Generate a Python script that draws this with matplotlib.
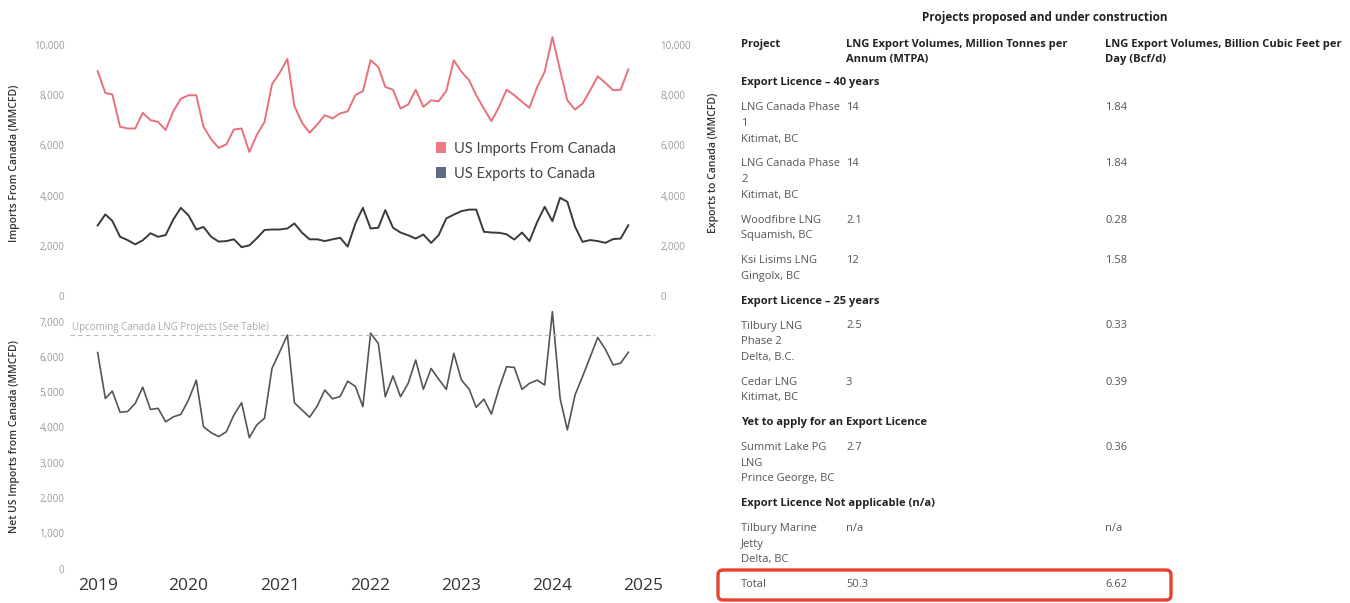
import numpy as np
import pandas as pd
import matplotlib
matplotlib.use("Agg")
import matplotlib.pyplot as plt
import matplotlib.dates as mdates
from matplotlib.patches import Patch, FancyBboxPatch
from matplotlib.ticker import FuncFormatter

plt.rcParams['font.family'] = ['Open Sans', 'DejaVu Sans']

# monthly data, Jan 2019 - Nov 2024 (MMCFD)
months = pd.date_range("2019-01-01", "2024-11-01", freq="MS")

imports_from_canada = [
    8950, 8080, 8020, 6740, 6670, 6670, 7290, 7000, 6930, 6610,
    7360, 7850, 7990, 7990, 6740, 6240, 5900, 6040, 6630, 6670,
    5740, 6410, 6930, 8420, 8880, 9430, 7560, 6890, 6500, 6830,
    7200, 7070, 7270, 7350, 8000, 8150, 9380, 9110, 8320, 8210,
    7460, 7620, 8210, 7530, 7790, 7750, 8160, 9380, 8920, 8580,
    7990, 7460, 6960, 7530, 8210, 7990, 7730, 7490, 8320, 8920,
    10300, 8980, 7790, 7420, 7660, 8190, 8740, 8480, 8190, 8210,
    9020,
]
exports_to_canada = [
    2820, 3260, 3000, 2370, 2240, 2070, 2230, 2510, 2370, 2440,
    3060, 3520, 3220, 2660, 2760, 2370, 2180, 2200, 2270, 1960,
    2030, 2310, 2640, 2660, 2660, 2700, 2900, 2530, 2270, 2270,
    2200, 2270, 2330, 1980, 2900, 3520, 2700, 2730, 3430, 2730,
    2540, 2430, 2300, 2460, 2130, 2430, 3100, 3250, 3390, 3450,
    3450, 2570, 2540, 2530, 2470, 2260, 2540, 2200, 2960, 3560,
    2990, 3920, 3760, 2770, 2170, 2240, 2200, 2130, 2280, 2300,
    2830,
]
net_imports = [
    6120, 4820, 5030, 4430, 4450, 4680, 5140, 4510, 4540, 4160,
    4300, 4370, 4780, 5340, 4020, 3850, 3740, 3880, 4350, 4700,
    3710, 4070, 4260, 5670, 6140, 6620, 4700, 4490, 4290, 4610,
    5060, 4810, 4880, 5310, 5160, 4590, 6670, 6380, 4870, 5460,
    4870, 5250, 5910, 5080, 5670, 5370, 5080, 6100, 5340, 5080,
    4570, 4800, 4380, 5110, 5720, 5700, 5080, 5250, 5340, 5200,
    7280, 4820, 3930, 4920, 5440, 6000, 6550, 6210, 5770, 5820,
    6130,
]

# table data
section_titles = [
    "Export Licence – 40 years",
    "Export Licence – 25 years",
    "Yet to apply for an Export Licence",
    "Export Licence Not applicable (n/a)",
]
project_names = [
    "LNG Canada Phase\n1\nKitimat, BC",
    "LNG Canada Phase\n2\nKitimat, BC",
    "Woodfibre LNG\nSquamish, BC",
    "Ksi Lisims LNG\nGingolx, BC",
    "Tilbury LNG\nPhase 2\nDelta, B.C.",
    "Cedar LNG\nKitimat, BC",
    "Summit Lake PG\nLNG\nPrince George, BC",
    "Tilbury Marine\nJetty\nDelta, BC",
]
project_section = [0, 0, 0, 0, 1, 1, 2, 3]
mtpa = ["14", "14", "2.1", "12", "2.5", "3", "2.7", "n/a"]
bcfd = ["1.84", "1.84", "0.28", "1.58", "0.33", "0.39", "0.36", "n/a"]
total_mtpa = 50.3
total_bcfd = 6.62

W, H = 1350, 603
fig = plt.figure(figsize=(W / 100, H / 100), dpi=100)


def fx(x):
    return x / W


def fy(y):
    return 1 - y / H


thousands = FuncFormatter(lambda v, _: f"{v:,.0f}")
xlim = (pd.Timestamp("2018-09-12"), pd.Timestamp("2025-02-16"))
tick_col = "#999999"
lab_col = "#333333"


def clean(ax):
    for s in ax.spines.values():
        s.set_visible(False)
    ax.tick_params(length=0, labelsize=7, labelcolor=tick_col, pad=4)


# top panel: imports / exports
ax1 = fig.add_axes([fx(70), fy(296.5), (655 - 70) / W, 267 / H])
ax1.plot(months, imports_from_canada, color="#e8707c", lw=1.4)
ax1.set_xlim(xlim)
ax1.set_ylim(0, 10600)
ax1.set_yticks(range(0, 10001, 2000))
ax1.yaxis.set_major_formatter(thousands)
ax1.set_xticks([])
clean(ax1)
ax1.set_ylabel("Imports From Canada (MMCFD)", fontsize=7.5, color=lab_col, fontweight="semibold")
ax1.yaxis.set_label_coords(-0.085, 0.5)

ax1r = ax1.twinx()
ax1r.plot(months, exports_to_canada, color="#3a3a3a", lw=1.4)
ax1r.set_ylim(0, 10600)
ax1r.set_yticks(range(0, 10001, 2000))
ax1r.yaxis.set_major_formatter(thousands)
ax1r.set_xticks([])
clean(ax1r)
ax1r.set_ylabel("Exports to Canada (MMCFD)", fontsize=7.5, color=lab_col, fontweight="semibold")
ax1r.yaxis.set_label_coords(1.09, 0.5)

handles = [Patch(facecolor="#ec7a84"), Patch(facecolor="#5e6b88")]
ax1r.legend(handles, ["US Imports From Canada", "US Exports to Canada"],
            loc="upper left", bbox_to_anchor=(0.626, 0.58), frameon=False,
            prop={"family": "Lato", "size": 10.5}, handlelength=0.7, handleheight=0.7,
            handletextpad=0.5, labelspacing=0.75, borderpad=0, borderaxespad=0,
            labelcolor="#444444")

# bottom panel: net imports
ax2 = fig.add_axes([fx(70), fy(568.6), 585 / W, 264.7 / H])
ax2.plot(months, net_imports, color="#555555", lw=1.2)
ref = total_bcfd * 1000
ax2.axhline(ref, color="#bbbbbb", lw=0.8, ls=(0, (4, 3)))
ax2.text(0.004, ref + 60, "Upcoming Canada LNG Projects (See Table)",
         transform=ax2.get_yaxis_transform(), fontsize=7, color="#aaaaaa", va="bottom")
ax2.set_xlim(xlim)
ax2.set_ylim(0, 7500)
ax2.set_yticks(range(0, 7001, 1000))
ax2.yaxis.set_major_formatter(thousands)
ax2.xaxis.set_major_locator(mdates.YearLocator())
ax2.xaxis.set_major_formatter(mdates.DateFormatter("%Y"))
clean(ax2)
ax2.tick_params(axis="x", labelsize=12.5, labelcolor=lab_col, pad=7)
ax2.set_ylabel("Net US Imports from Canada (MMCFD)", fontsize=7.5, color=lab_col, fontweight="semibold")
ax2.yaxis.set_label_coords(-0.085, 0.5)

# table on the right
c1, c2, c3 = 741, 846, 1105
line_h, gap = 15.7, 24.8
txt = dict(fontsize=8, color="#555555", va="center")
bold = dict(fontsize=8, color="#222222", va="center", fontweight="bold")


def lines(x, y, text, **kw):
    for k, part in enumerate(text.split("\n")):
        fig.text(fx(x), fy(y + k * line_h), part, **kw)
    return y + (len(text.split("\n")) - 1) * line_h


fig.text(fx(1045), fy(17), "Projects proposed and under construction",
         ha="center", va="center", fontsize=8.5, fontweight="bold", color="#222222")
lines(c1, 44, "Project", **bold)
lines(c2, 44, "LNG Export Volumes, Million Tonnes per\nAnnum (MTPA)", **bold)
lines(c3, 44, "LNG Export Volumes, Billion Cubic Feet per\nDay (Bcf/d)", **bold)

y = 83
current = -1
for name, sec, m, b in zip(project_names, project_section, mtpa, bcfd):
    if sec != current:
        lines(c1, y, section_titles[sec], **bold)
        y += gap
        current = sec
    lines(c2, y, m, **txt)
    lines(c3, y, b, **txt)
    y = lines(c1, y, name, **txt) + gap

lines(c1, y, "Total", **txt)
lines(c2, y, f"{total_mtpa}", **txt)
lines(c3, y, f"{total_bcfd}", **txt)

box = FancyBboxPatch((7.18, 0.03), 4.53, 0.30, boxstyle="round,pad=0,rounding_size=0.05",
                     transform=fig.dpi_scale_trans, fill=False, edgecolor="#e8412c", lw=2.4)
fig.add_artist(box)

fig.savefig("out.png", dpi=100)
